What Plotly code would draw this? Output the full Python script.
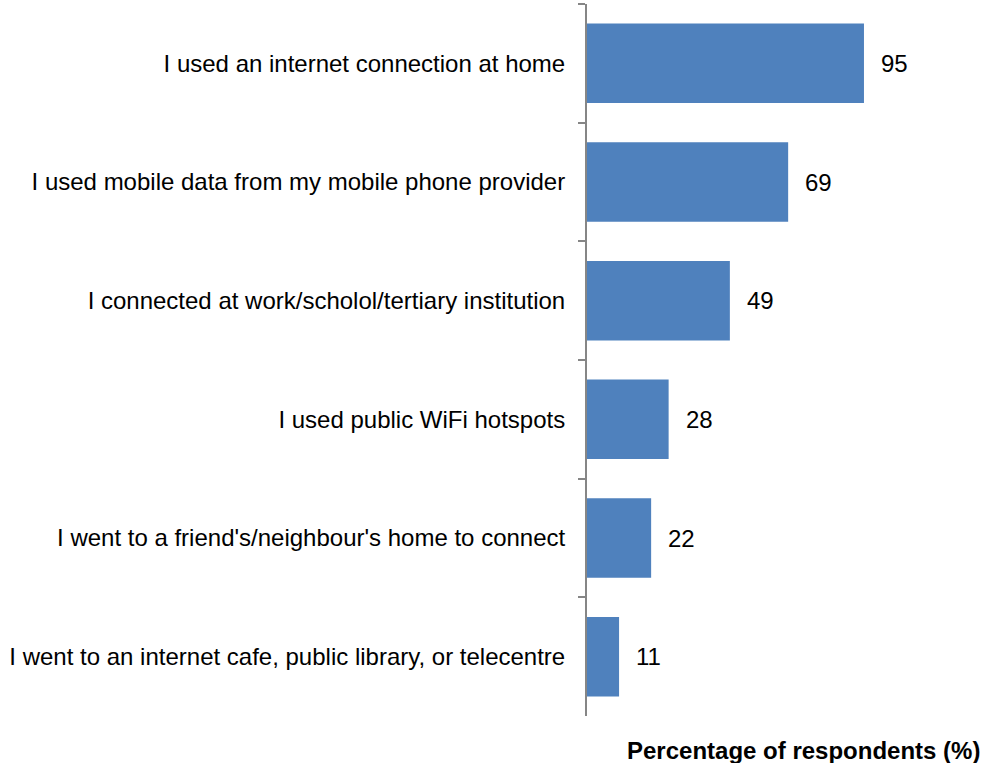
import plotly.graph_objects as go

# Ways respondents connected to the internet
categories = [
    "I used an internet connection at home",
    "I used mobile data from my mobile phone provider",
    "I connected at work/scholol/tertiary institution",
    "I used public WiFi hotspots",
    "I went to a friend's/neighbour's home to connect",
    "I went to an internet cafe, public library, or telecentre",
]
values = [95, 69, 49, 28, 22, 11]
axis_title = "Percentage of respondents (%)"

FONT = "Liberation Sans, Arial, sans-serif"
BAR_COLOR = "#4F81BD"
AXIS_COLOR = "#868686"

fig = go.Figure()
fig.add_trace(go.Bar(
    x=values,
    y=categories,
    orientation="h",
    marker=dict(color=BAR_COLOR, line=dict(width=0)),
    hoverinfo="x+y",
))

# value labels to the right of each bar
for cat, val in zip(categories, values):
    fig.add_annotation(
        x=val, y=cat, xref="x", yref="y",
        text=str(val), showarrow=False,
        xanchor="left", yanchor="middle", xshift=15,
        font=dict(family=FONT, size=24, color="#000000"),
    )

# axis title, right-aligned under the plot
fig.add_annotation(
    x=1, y=0, xref="paper", yref="paper",
    text="<b>" + axis_title + "</b>", showarrow=False,
    xanchor="right", yanchor="middle", yshift=-34, xshift=2,
    font=dict(family=FONT, size=24, color="#000000"),
)

fig.update_layout(
    width=982, height=763,
    margin=dict(l=587, r=2, t=4, b=47),
    paper_bgcolor="white", plot_bgcolor="white",
    bargap=0.33,
    showlegend=False,
    font=dict(family=FONT, size=24, color="#000000"),
    xaxis=dict(
        range=[0, 134.8],
        showline=False, showgrid=False, zeroline=False,
        showticklabels=False, ticks="",
        fixedrange=True,
    ),
    yaxis=dict(
        autorange="reversed",
        showline=True, linecolor=AXIS_COLOR, linewidth=2,
        ticks="outside", tickson="boundaries", ticklen=7,
        tickcolor=AXIS_COLOR, tickwidth=2,
        ticklabelstandoff=15,
        showgrid=False, zeroline=False,
        tickfont=dict(family=FONT, size=24, color="#000000"),
        fixedrange=True,
    ),
)

fig.write_html("out.html")
